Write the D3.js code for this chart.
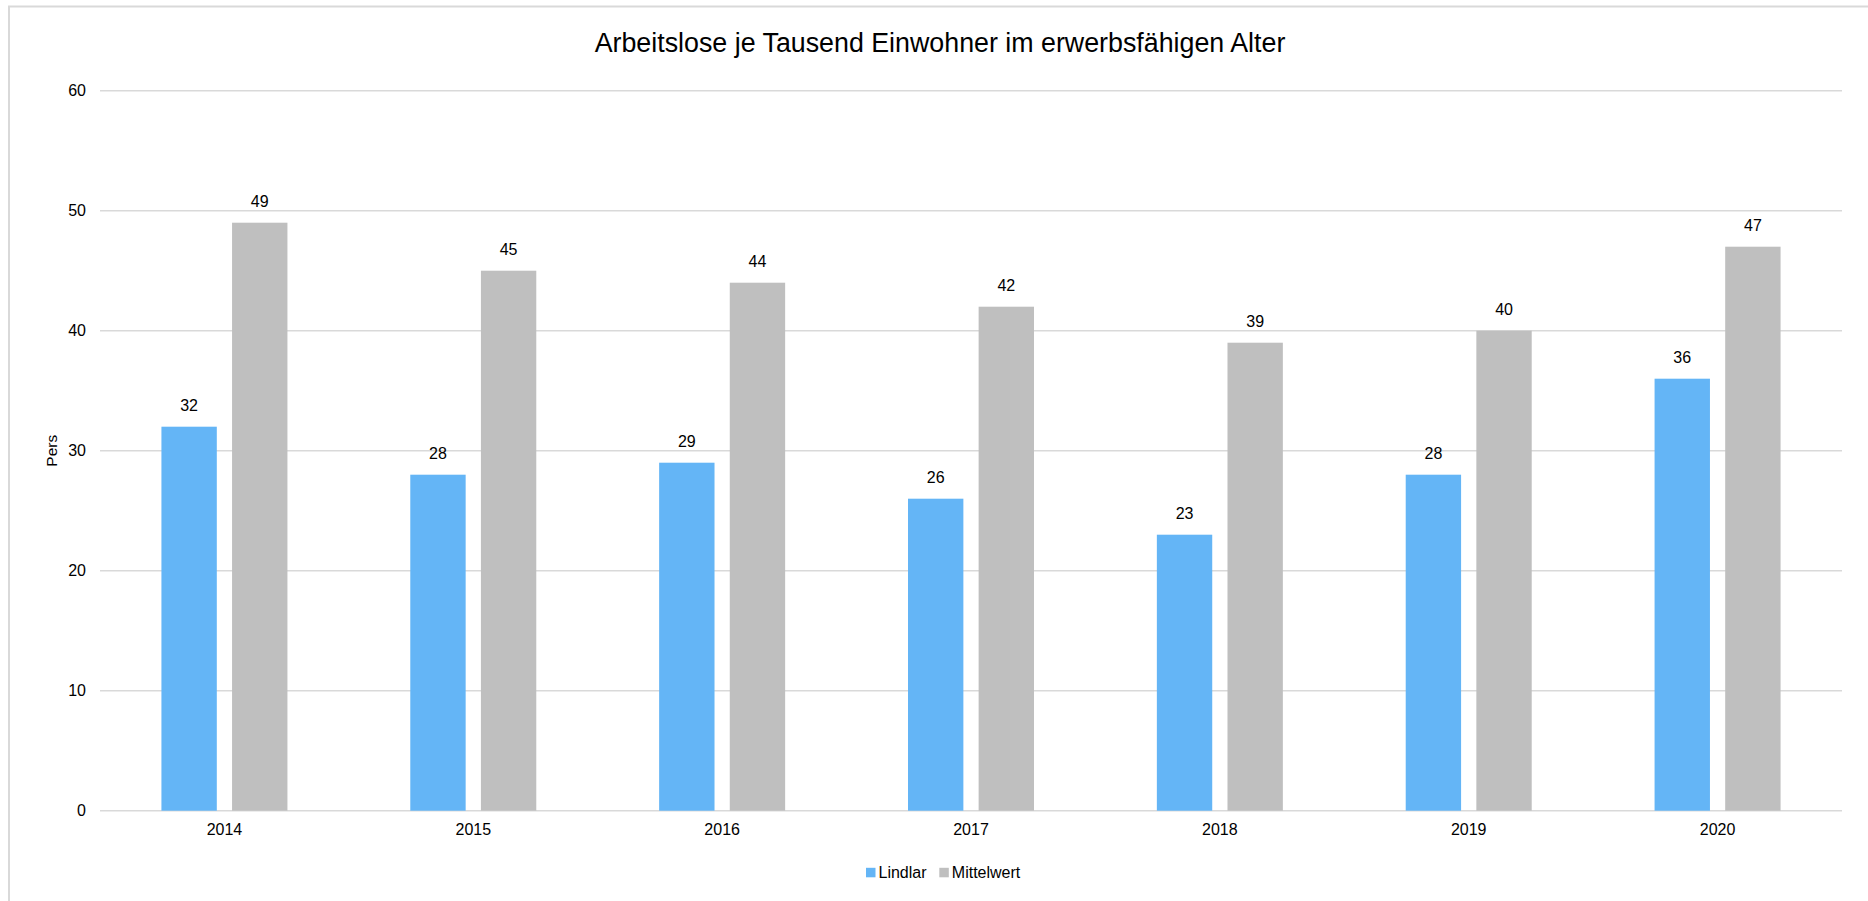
<!DOCTYPE html>
<html>
<head>
<meta charset="utf-8">
<script src="https://cdn.jsdelivr.net/npm/d3@7"></script>
<style>
  html, body { margin: 0; padding: 0; background: #fff; }
  svg { display: block; }
</style>
</head>
<body>
<div id="chart"></div>
<script>
// Data
var years = ['2014', '2015', '2016', '2017', '2018', '2019', '2020']
var lindlar = [32, 28, 29, 26, 23, 28, 36]
var mittelwert = [49, 45, 44, 42, 39, 40, 47]
var seriesNames = ['Lindlar', 'Mittelwert']
var yTicks = [0, 10, 20, 30, 40, 50, 60]

var title = 'Arbeitslose je Tausend Einwohner im erwerbsfähigen Alter'
var yLabel = 'Pers'

// Layout
var W = 1868, H = 901
var plot = {left: 100, right: 1842, top: 90.7, bottom: 810.7}
var colors = {Lindlar: '#64b5f6', Mittelwert: '#bfbfbf'}
var font = 'Arial, "Liberation Sans", sans-serif'

var svg = d3.select('#chart').append('svg')
    .attr('width', W)
    .attr('height', H)

// Chart frame (runs off the right and bottom edge)
svg.append('rect')
    .attr('x', 9)
    .attr('y', 6.5)
    .attr('width', 1870)
    .attr('height', 910)
    .attr('fill', 'none')
    .attr('stroke', '#d9d9d9')
    .attr('stroke-width', 2)

var x0 = d3.scaleBand()
    .domain(years)
    .range([plot.left, plot.right])

var groupHalf = 63
var x1 = d3.scaleBand()
    .domain(seriesNames)
    .range([x0.bandwidth() / 2 - groupHalf, x0.bandwidth() / 2 + groupHalf])
    .paddingInner(0.216)

var y = d3.scaleLinear()
    .domain([0, 60])
    .range([plot.bottom, plot.top])

// Gridlines
svg.append('g')
    .selectAll('line')
    .data(yTicks)
  .enter().append('line')
    .attr('x1', plot.left)
    .attr('x2', plot.right)
    .attr('y1', function(d){ return y(d) })
    .attr('y2', function(d){ return y(d) })
    .style('stroke', '#d9d9d9')
    .style('stroke-width', 1.5)

// Y tick labels
svg.append('g')
    .selectAll('text')
    .data(yTicks)
  .enter().append('text')
    .attr('x', 86)
    .attr('y', function(d){ return y(d) })
    .attr('dy', '0.36em')
    .text(function(d){ return d })
    .style('text-anchor', 'end')
    .attr('font-family', font)
    .attr('font-size', '16px')
    .attr('fill', '#000')

// X tick labels
svg.append('g')
    .selectAll('text')
    .data(years)
  .enter().append('text')
    .attr('x', function(d){ return x0(d) + x0.bandwidth() / 2 })
    .attr('y', plot.bottom + 24.3)
    .text(function(d){ return d })
    .style('text-anchor', 'middle')
    .attr('font-family', font)
    .attr('font-size', '16px')
    .attr('fill', '#000')

// Bars
var rows = years.map(function(yr, i){
  return {year: yr, values: [
    {name: 'Lindlar', value: lindlar[i]},
    {name: 'Mittelwert', value: mittelwert[i]}
  ]}
})

var group = svg.append('g').selectAll('g')
    .data(rows)
  .enter().append('g')
    .attr('transform', function(d){ return 'translate(' + x0(d.year) + ',0)' })

var bar = group.selectAll('g')
    .data(function(d){ return d.values })
  .enter().append('g')

bar.append('rect')
    .attr('x', function(d){ return x1(d.name) })
    .attr('y', function(d){ return y(d.value) })
    .attr('width', x1.bandwidth())
    .attr('height', function(d){ return y(0) - y(d.value) })
    .attr('fill', function(d){ return colors[d.name] })

bar.append('text')
    .attr('x', function(d){ return x1(d.name) + x1.bandwidth() / 2 })
    .attr('y', function(d){ return y(d.value) - 15.5 })
    .text(function(d){ return d.value })
    .style('text-anchor', 'middle')
    .attr('font-family', font)
    .attr('font-size', '16px')
    .attr('fill', '#000')

// Title
svg.append('text')
    .attr('x', 940)
    .attr('y', 51.7)
    .text(title)
    .style('text-anchor', 'middle')
    .attr('font-family', font)
    .attr('font-size', '26.8px')
    .attr('fill', '#000')

// Y axis title
svg.append('text')
    .attr('transform', 'translate(57,' + ((plot.top + plot.bottom) / 2) + ') rotate(-90)')
    .text(yLabel)
    .style('text-anchor', 'middle')
    .attr('font-family', font)
    .attr('font-size', '15.5px')
    .attr('fill', '#000')

// Legend
var legendX = [866, 939.3]
var legend = svg.append('g').selectAll('g')
    .data(seriesNames)
  .enter().append('g')
    .attr('transform', function(d, i){ return 'translate(' + legendX[i] + ',0)' })

legend.append('rect')
    .attr('x', 0)
    .attr('y', 867.8)
    .attr('width', 9.5)
    .attr('height', 9.5)
    .attr('fill', function(d){ return colors[d] })

legend.append('text')
    .attr('x', 12.5)
    .attr('y', 877.7)
    .text(function(d){ return d })
    .attr('font-family', font)
    .attr('font-size', '16px')
    .attr('fill', '#000')
</script>
</body>
</html>
